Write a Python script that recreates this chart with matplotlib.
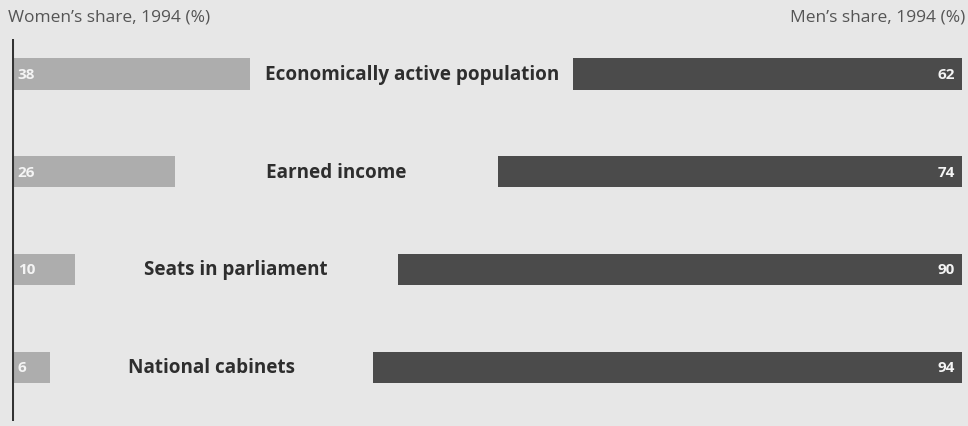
import matplotlib
matplotlib.use("Agg")
import matplotlib.pyplot as plt

categories = ["Economically active population", "Earned income", "Seats in parliament", "National cabinets"]
women = [38, 26, 10, 6]
men = [62, 74, 90, 94]
left_title = "Women\u2019s share, 1994 (%)"
right_title = "Men\u2019s share, 1994 (%)"

W, H = 968, 427
fig = plt.figure(figsize=(W / 100, H / 100), dpi=100)
bg = "#e7e7e7"
fig.patch.set_facecolor(bg)

# axes spans from x=12 to x=962 px, y=40 to 422 px
ax = fig.add_axes([12 / W, (H - 422) / H, 950 / W, 382 / H])
ax.set_facecolor(bg)
XMAX = 151.5
ax.set_xlim(0, XMAX)
ax.set_ylim(3.551, -0.357)
for s in ax.spines.values():
    s.set_visible(False)
ax.axvline(0, color="#333333", lw=2.2)
ax.set_xticks([])
ax.set_yticks([])

bh = 0.32
fam = ["Open Sans", "DejaVu Sans"]
for i, (c, w, m) in enumerate(zip(categories, women, men)):
    ax.barh(i, w, left=0, height=bh, color="#adadad", edgecolor="none")
    ax.barh(i, m, left=XMAX - m, height=bh, color="#4b4b4b", edgecolor="none")
    ax.text(0.9, i, str(w), color="#f4f4f4", fontsize=11, fontweight="bold",
            va="center", ha="left", family=fam)
    ax.text(XMAX - 1.1, i, str(m), color="#f4f4f4", fontsize=11, fontweight="bold",
            va="center", ha="right", family=fam)
    mid = (w + (XMAX - m)) / 2
    ax.text(mid, i, c, color="#2e2e2e", fontsize=13.6, fontweight="bold",
            va="center", ha="center", family=fam)

fig.text(8 / W, 1 - 17 / H, left_title, color="#555555", fontsize=12.5,
         va="center", ha="left", family=fam)
fig.text(965 / W, 1 - 17 / H, right_title, color="#555555", fontsize=12.5,
         va="center", ha="right", family=fam)

fig.savefig("out.png", dpi=100, facecolor=bg)
